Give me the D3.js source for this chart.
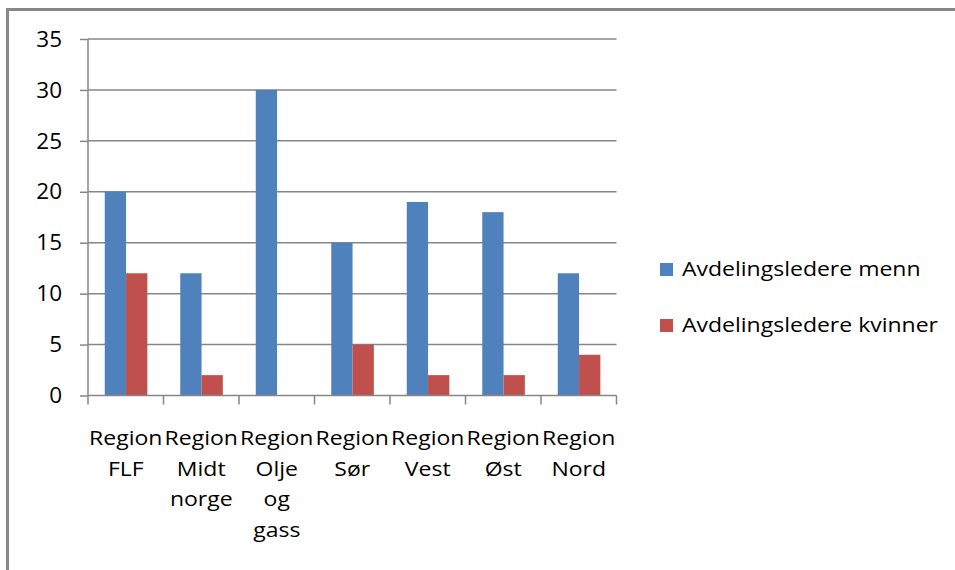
<!DOCTYPE html>
<html>
<head>
<meta charset="utf-8">
<script src="https://cdn.jsdelivr.net/npm/d3@7"></script>
<style>
  html, body { margin: 0; padding: 0; background: #fff; }
  svg { display: block; }
  text { font-family: "Open Sans", "Liberation Sans", sans-serif; fill: #000; }
</style>
</head>
<body>
<svg id="chart" width="955" height="570"></svg>
<script>
// Regions shown along the x axis (wrapped word by word under each group)
const categories = [
  "Region FLF",
  "Region Midt norge",
  "Region Olje og gass",
  "Region Sør",
  "Region Vest",
  "Region Øst",
  "Region Nord"
];
const seriesNames = ["Avdelingsledere menn", "Avdelingsledere kvinner"];
const menn = [20, 12, 30, 15, 19, 18, 12];
const kvinner = [12, 2, 0, 5, 2, 2, 4];
const yTicks = [0, 5, 10, 15, 20, 25, 30, 35];
const colors = ["#4F81BD", "#C0504D"];

const svg = d3.select("#chart");
const W = 955, H = 570;
svg.append("rect").attr("width", W).attr("height", H).attr("fill", "#fff");

// Frame (only top and left edges visible)
const frameColor = "#888888";
svg.append("line").attr("x1", 6).attr("x2", W).attr("y1", 9.5).attr("y2", 9.5)
  .attr("stroke", frameColor).attr("stroke-width", 3);
svg.append("line").attr("x1", 7.5).attr("x2", 7.5).attr("y1", 8).attr("y2", H)
  .attr("stroke", frameColor).attr("stroke-width", 3);

const plot = { left: 88, right: 616.5, top: 39, bottom: 395.5 };
const textScaleX = 1.18;

const x = d3.scaleBand().domain(categories).range([plot.left, plot.right]).padding(0);
const xs = d3.scaleBand().domain(seriesNames)
  .range([x.bandwidth() * 0.222, x.bandwidth() * 0.786]).padding(0);
const y = d3.scaleLinear().domain([0, 35]).range([plot.bottom, plot.top]);

const gridColor = "#868686";

// Horizontal gridlines
svg.append("g").selectAll("line").data(yTicks.filter(d => d > 0)).join("line")
  .attr("x1", plot.left).attr("x2", plot.right)
  .attr("y1", d => y(d)).attr("y2", d => y(d))
  .attr("stroke", gridColor).attr("stroke-width", 1.5);

// Bars
const rows = categories.map((c, i) => ({ c, values: [menn[i], kvinner[i]] }));
const groups = svg.append("g").selectAll("g").data(rows).join("g")
  .attr("transform", d => `translate(${x(d.c)},0)`);
groups.selectAll("rect")
  .data(d => d.values.map((v, j) => ({ name: seriesNames[j], v, j })))
  .join("rect")
  .attr("x", d => xs(d.name))
  .attr("width", xs.bandwidth())
  .attr("y", d => y(d.v))
  .attr("height", d => y(0) - y(d.v))
  .attr("fill", d => colors[d.j]);

// Y axis
const yAxis = svg.append("g").attr("transform", `translate(${plot.left},0)`)
  .call(d3.axisLeft(y).tickValues(yTicks).tickSize(8).tickPadding(18).tickFormat(d3.format("d")));
yAxis.select(".domain").attr("stroke", gridColor).attr("stroke-width", 1.5)
  .attr("d", `M0,${plot.top}V${plot.bottom}`);
yAxis.selectAll(".tick line").attr("stroke", gridColor).attr("stroke-width", 1.5);
yAxis.selectAll(".tick text")
  .style("font-family", "'Open Sans', 'Liberation Sans', sans-serif")
  .style("font-size", "22.5px").attr("fill", "#000");

// X axis: line plus tick marks at every category boundary
svg.append("line").attr("x1", plot.left).attr("x2", plot.right)
  .attr("y1", plot.bottom).attr("y2", plot.bottom)
  .attr("stroke", gridColor).attr("stroke-width", 1.5);
const bounds = categories.map(c => x(c)).concat([plot.right]);
svg.append("g").selectAll("line").data(bounds).join("line")
  .attr("x1", d => d).attr("x2", d => d)
  .attr("y1", plot.bottom).attr("y2", plot.bottom + 9)
  .attr("stroke", gridColor).attr("stroke-width", 1.5);

// Category labels, one word per line, centred under each group
const lineGap = 30.5;
const catLabels = svg.append("g").selectAll("g").data(categories).join("g")
  .attr("transform", d => `translate(${x(d) + x.bandwidth() / 2},0)`);
catLabels.selectAll("text").data(d => d.split(" ")).join("text")
  .attr("text-anchor", "middle")
  .attr("transform", (d, i) => `translate(0,${445 + i * lineGap}) scale(${textScaleX},1)`)
  .style("font-size", "19.5px")
  .text(d => d);

// Legend
const legend = svg.append("g").selectAll("g").data(seriesNames).join("g")
  .attr("transform", (d, i) => `translate(660,${263 + i * 56})`);
legend.append("rect").attr("width", 13).attr("height", 13)
  .attr("fill", (d, i) => colors[i]);
legend.append("text")
  .attr("transform", `translate(22,13) scale(${textScaleX},1)`)
  .style("font-size", "19.5px")
  .text(d => d);
</script>
</body>
</html>
